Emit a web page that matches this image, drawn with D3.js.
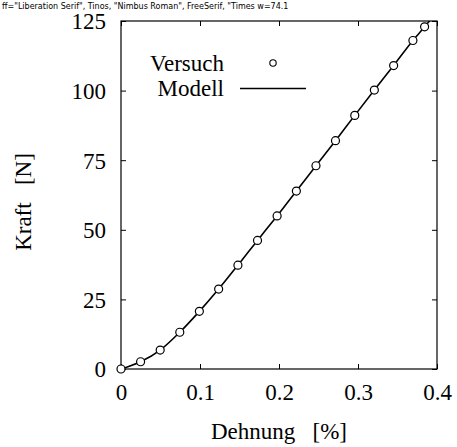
<!DOCTYPE html>
<html>
<head>
<meta charset="utf-8">
<script src="https://cdn.jsdelivr.net/npm/d3@7"></script>
</head>
<body style="margin:0">
<svg id="fig" width="457" height="447"></svg>
<script>
// Data
const strainExp = [0, 0.0248, 0.0496, 0.0744, 0.0992, 0.1236, 0.148, 0.1728, 0.1976, 0.222, 0.2468, 0.2715, 0.2959, 0.3207, 0.3451, 0.3695, 0.3843];
const forceExp  = [0, 2.6, 6.8, 13.2, 20.7, 28.7, 37.3, 46.2, 55.0, 63.9, 73.0, 82.0, 91.1, 100.2, 109.0, 118.0, 122.9];
const strainModel = [0, 0.0248, 0.0496, 0.0744, 0.0992, 0.1236, 0.148, 0.1728, 0.1976, 0.222, 0.2468, 0.2715, 0.2959, 0.3207, 0.3451, 0.3695, 0.3843, 0.392];
const forceModel  = [0, 2.6, 6.8, 13.2, 20.7, 28.7, 37.3, 46.2, 55.0, 63.9, 73.0, 82.0, 91.1, 100.2, 109.0, 118.0, 122.9, 125.5];
const xTicks = [0, 0.1, 0.2, 0.3, 0.4];
const xTickLabels = ["0", "0.1", "0.2", "0.3", "0.4"];
const yTicks = [0, 25, 50, 75, 100, 125];
const yTickLabels = ["0", "25", "50", "75", "100", "125"];
const legendLabels = ["Versuch", "Modell"];
const xTitle = "Dehnung   [%]";
const yTitle = "Kraft   [N]";

const fontNames = ["Liberation Serif", "Tinos", "Nimbus Roman", "FreeSerif", "Times New Roman"];
const FONT = fontNames.map(f => `"${f}"`).join(", ") + ", serif";
const FS = "23px";
const svg = d3.select("#fig");
const L = 121, R = 437, T = 21, B = 369;
const x = d3.scaleLinear().domain([0, 0.4]).range([L, R]);
const y = d3.scaleLinear().domain([0, 125]).range([B, T]);
const tickLen = 5;

svg.append("clipPath").attr("id", "plotclip").append("rect")
  .attr("x", L).attr("y", T).attr("width", R - L).attr("height", B - T);

function styleAxis(g) {
  g.attr("font-family", null).attr("font-size", null);
  g.select(".domain").remove();
  g.selectAll("line").attr("stroke", "#000").attr("stroke-width", 1);
  g.selectAll("text").attr("fill", "#000").style("font-family", FONT).style("font-size", FS);
}
const gxb = svg.append("g").attr("transform", `translate(0,${B})`)
  .call(d3.axisBottom(x).tickValues(xTicks).tickSizeInner(-tickLen).tickSizeOuter(0).tickFormat((d, i) => xTickLabels[i]).tickPadding(14));
const gxt = svg.append("g").attr("transform", `translate(0,${T})`)
  .call(d3.axisTop(x).tickValues(xTicks).tickSizeInner(-tickLen).tickSizeOuter(0).tickFormat(""));
const gyl = svg.append("g").attr("transform", `translate(${L},0)`)
  .call(d3.axisLeft(y).tickValues(yTicks).tickSizeInner(-tickLen).tickSizeOuter(0).tickFormat((d, i) => yTickLabels[i]).tickPadding(15));
const gyr = svg.append("g").attr("transform", `translate(${R},0)`)
  .call(d3.axisRight(y).tickValues(yTicks).tickSizeInner(-tickLen).tickSizeOuter(0).tickFormat(""));
[gxb, gxt, gyl, gyr].forEach(styleAxis);
gyl.selectAll("text").attr("dy", "0.34em");
gxb.selectAll("text").attr("dy", "0.72em");

svg.append("rect").attr("x", L).attr("y", T).attr("width", R - L).attr("height", B - T)
  .attr("fill", "none").attr("stroke", "#000").attr("stroke-width", 1.2);

const modelData = strainModel.map((s, i) => [s, forceModel[i]]);
svg.append("path").datum(modelData)
  .attr("clip-path", "url(#plotclip)")
  .attr("fill", "none").attr("stroke", "#000").attr("stroke-width", 1.6)
  .attr("d", d3.line().x(d => x(d[0])).y(d => y(d[1])).curve(d3.curveMonotoneX));

const expData = strainExp.map((s, i) => [s, forceExp[i]]);
svg.append("g").selectAll("circle").data(expData).join("circle")
  .attr("cx", d => x(d[0])).attr("cy", d => y(d[1])).attr("r", 4)
  .attr("fill", "#fff").attr("stroke", "#000").attr("stroke-width", 1.2);

const txt = (xp, yp, anchor, s) => svg.append("text")
  .attr("x", xp).attr("y", yp).attr("text-anchor", anchor).attr("fill", "#000")
  .style("font-family", FONT).style("font-size", FS)
  .style("white-space", "pre").text(s);

const v = txt(224, 70.5, "end", legendLabels[0]);
txt(224, 95.5, "end", legendLabels[1]);
svg.append("circle").attr("cx", 273).attr("cy", 63).attr("r", 3.2)
  .attr("fill", "#fff").attr("stroke", "#000").attr("stroke-width", 1.1);
svg.append("line").attr("x1", 240).attr("x2", 306).attr("y1", 88.5).attr("y2", 88.5)
  .attr("stroke", "#000").attr("stroke-width", 1.6);

txt((L + R) / 2, 439, "middle", xTitle);
txt(0, 0, "middle", yTitle).attr("transform", `translate(31,${(T + B) / 2 + 7}) rotate(-90)`);

// temporary diagnostic
const cs = getComputedStyle(v.node());
svg.append("text").attr("x", 2).attr("y", 9).style("font-size", "8px").style("font-family", "DejaVu Sans")
  .text("ff=" + cs.fontFamily.slice(0, 60) + " w=" + v.node().getComputedTextLength().toFixed(1));
</script>
</body>
</html>
